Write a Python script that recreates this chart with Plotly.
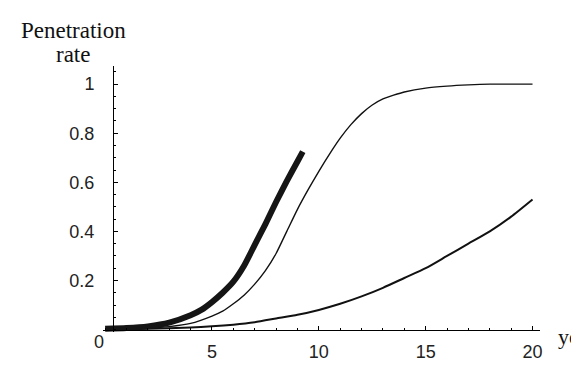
import plotly.graph_objects as go

# ---- data ----
thick_x = [0, 1, 2, 3, 4, 4.5, 5, 5.5, 6, 6.5, 7, 7.5, 8, 8.5, 9, 9.25]
thick_y = [0.003, 0.006, 0.013, 0.028, 0.058, 0.08, 0.112, 0.15, 0.195, 0.26, 0.345, 0.43, 0.52, 0.605, 0.685, 0.725]

fast_x = [0, 1, 2, 3, 4, 5, 5.5, 6, 6.5, 7, 7.5, 8, 8.5, 9, 9.5, 10, 10.5, 11, 11.5, 12,
          12.5, 13, 13.5, 14, 15, 16, 17, 18, 19, 20]
fast_y = [0.002, 0.003, 0.006, 0.012, 0.025, 0.055, 0.075, 0.105, 0.14, 0.185, 0.24, 0.31, 0.40, 0.49,
          0.57, 0.645, 0.715, 0.78, 0.835, 0.88, 0.915, 0.94, 0.955, 0.968, 0.984, 0.992, 0.997,
          1.0, 1.0, 1.0]

slow_x = [0, 2, 4, 5, 6, 7, 8, 9, 10, 11, 12, 13, 14, 15, 16, 17, 18, 19, 20]
slow_y = [0.0, 0.003, 0.008, 0.013, 0.02, 0.03, 0.045, 0.06, 0.08, 0.105, 0.135, 0.17, 0.21, 0.25,
          0.30, 0.35, 0.40, 0.46, 0.53]

x_major = [5, 10, 15, 20]
x_major_text = ["5", "10", "15", "20"]
y_major = [0.2, 0.4, 0.6, 0.8, 1.0]
y_major_text = ["0.2", "0.4", "0.6", "0.8", "1"]

# ---- layout geometry ----
W, H = 579, 366
L, R, T, B = 95, 47, 58, 28
pw, ph = W - L - R, H - T - B
XR = [-0.1, 20.35]
YR = [-0.01, 1.074]


def px_x(p):
    return (p - L) / pw


def px_y(p):
    return (H - B - p) / ph


fig = go.Figure()
fig.add_trace(go.Scatter(x=slow_x, y=slow_y, mode="lines",
                         line=dict(color="#111111", width=2, shape="spline", smoothing=0.6),
                         showlegend=False))
fig.add_trace(go.Scatter(x=fast_x, y=fast_y, mode="lines",
                         line=dict(color="#111111", width=1.4, shape="spline", smoothing=0.6),
                         showlegend=False))
fig.add_trace(go.Scatter(x=thick_x, y=thick_y, mode="lines",
                         line=dict(color="#151515", width=6, shape="spline", smoothing=0.6),
                         showlegend=False))

axis_font = dict(family="Liberation Sans, Arial, sans-serif", size=18, color="#222")

fig.update_layout(
    width=W, height=H,
    margin=dict(l=L, r=R, t=T, b=B),
    paper_bgcolor="white", plot_bgcolor="white",
    xaxis=dict(range=XR, showgrid=False, zeroline=False, showline=True,
               linecolor="black", linewidth=1,
               anchor="free", position=(0 - YR[0]) / (YR[1] - YR[0]),
               tickmode="array", tickvals=x_major, ticktext=x_major_text,
               ticks="inside", ticklen=4, tickcolor="black", tickwidth=1,
               ticklabelstandoff=6,
               minor=dict(tickmode="linear", tick0=0, dtick=1, ticks="inside",
                          ticklen=2, tickcolor="black", tickwidth=1),
               tickfont=axis_font),
    yaxis=dict(range=YR, showgrid=False, zeroline=False, showline=True,
               linecolor="black", linewidth=1,
               anchor="free", position=px_x(105),
               tickmode="array", tickvals=y_major, ticktext=y_major_text,
               ticks="inside", ticklen=4, tickcolor="black", tickwidth=1,
               ticklabelstandoff=15,
               minor=dict(tickmode="linear", tick0=0, dtick=0.05, ticks="inside",
                          ticklen=2, tickcolor="black", tickwidth=1),
               tickfont=axis_font),
)

serif_font = "Liberation Serif, Times New Roman, serif"
fig.add_annotation(xref="paper", yref="paper", x=px_x(65), y=px_y(21),
                   xanchor="center", yanchor="middle", showarrow=False,
                   text="Penetration", font=dict(family=serif_font, size=23, color="#111"))
fig.add_annotation(xref="paper", yref="paper", x=px_x(65), y=px_y(46),
                   xanchor="center", yanchor="middle", showarrow=False,
                   text="rate", font=dict(family=serif_font, size=23, color="#111"))
fig.add_annotation(xref="paper", yref="paper", x=px_x(548), y=px_y(343),
                   xanchor="left", yanchor="middle", showarrow=False,
                   text="ye", font=dict(family=serif_font, size=22, color="#111"))
fig.add_annotation(xref="paper", yref="paper", x=px_x(91), y=px_y(348),
                   xanchor="center", yanchor="middle", showarrow=False,
                   text="0", font=axis_font)

fig.write_html("out.html")
